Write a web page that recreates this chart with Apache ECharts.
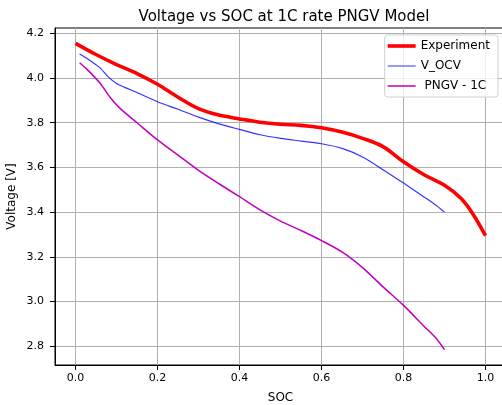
<!DOCTYPE html>
<html>
<head>
<meta charset="utf-8">
<script src="https://cdn.jsdelivr.net/npm/echarts@6/dist/echarts.min.js"></script>
<style>html,body{margin:0;padding:0;background:#fff;}#c{width:502px;height:405px;}</style>
</head>
<body>
<div id="c"></div>
<script>
// ---- data ----
const expX = [0, 0.05, 0.1, 0.15, 0.2, 0.25, 0.3, 0.35, 0.4, 0.45, 0.5, 0.55, 0.6, 0.65, 0.7, 0.75, 0.8, 0.85, 0.9, 0.94, 0.97, 1.0];
const expY = [4.155, 4.105, 4.06, 4.02, 3.972, 3.914, 3.863, 3.834, 3.817, 3.802, 3.793, 3.788, 3.777, 3.758, 3.73, 3.693, 3.625, 3.567, 3.52, 3.462, 3.39, 3.295];
const ocvX = [0.01, 0.03, 0.06, 0.08, 0.1, 0.12, 0.15, 0.2, 0.25, 0.3, 0.35, 0.4, 0.45, 0.5, 0.55, 0.6, 0.65, 0.7, 0.75, 0.8, 0.85, 0.88, 0.9];
const ocvY = [4.107, 4.085, 4.045, 4.005, 3.975, 3.958, 3.935, 3.894, 3.86, 3.825, 3.795, 3.77, 3.746, 3.73, 3.718, 3.706, 3.685, 3.647, 3.59, 3.53, 3.468, 3.43, 3.40];
const pngvX = [0.01, 0.03, 0.06, 0.085, 0.11, 0.15, 0.2, 0.25, 0.3, 0.35, 0.4, 0.45, 0.5, 0.55, 0.6, 0.65, 0.7, 0.75, 0.8, 0.85, 0.88, 0.9];
const pngvY = [4.068, 4.035, 3.976, 3.912, 3.862, 3.80, 3.723, 3.655, 3.587, 3.527, 3.469, 3.41, 3.36, 3.318, 3.273, 3.222, 3.152, 3.066, 2.983, 2.89, 2.835, 2.785];
const xTicks = [0.0, 0.2, 0.4, 0.6, 0.8, 1.0];
const yTicks = [2.8, 3.0, 3.2, 3.4, 3.6, 3.8, 4.0, 4.2];
const seriesNames = ['Experiment', 'V_OCV', ' PNGV - 1C'];

const zip = (xs, ys) => xs.map((x, i) => [x, ys[i]]);
const FONT = 'DejaVu Sans';
const chart = echarts.init(document.getElementById('c'), null, {renderer: 'canvas'});
chart.setOption({
  animation: false,
  backgroundColor: '#ffffff',
  title: {
    text: 'Voltage vs SOC at 1C rate PNGV Model',
    left: 279, top: 5, textAlign: 'center',
    textStyle: {fontFamily: FONT, fontSize: 15, fontWeight: 'normal', color: '#000'}
  },
  legend: {
    data: [
      {name: seriesNames[0], icon: 'path://M0,0H28V3.6H0Z'},
      {name: seriesNames[1], icon: 'path://M0,0H28V1.4H0Z', itemStyle: {color: '#6a6aff'}},
      {name: seriesNames[2], icon: 'path://M0,0H28V1.5H0Z'}
    ],
    orient: 'vertical',
    right: 4, top: 35,
    itemWidth: 28, itemHeight: 14, itemGap: 6,
    symbolKeepAspect: true,
    padding: [4, 8, 4, 3],
    backgroundColor: 'rgba(255,255,255,0.8)',
    borderColor: '#d0d0d0', borderWidth: 1, borderRadius: 3,
    textStyle: {fontFamily: FONT, fontSize: 12, color: '#000', lineHeight: 14}
  },
  grid: {left: 55, top: 28, right: -4, bottom: 40, outerBoundsMode: 'none', containLabel: false,
         show: true, borderColor: '#000', borderWidth: 1, backgroundColor: 'transparent'},
  xAxis: {
    type: 'value', min: -0.05, max: 1.05,
    name: 'SOC', nameLocation: 'middle', nameGap: 27, nameMoveOverlap: false,
    nameTextStyle: {fontFamily: FONT, fontSize: 12, color: '#000'},
    axisLine: {show: true, onZero: false, lineStyle: {color: '#000', width: 1}},
    axisTick: {show: true, length: 5, customValues: xTicks, lineStyle: {color: '#000'}},
    axisLabel: {customValues: xTicks, margin: 8, fontFamily: FONT, fontSize: 11, color: '#000', formatter: v => v.toFixed(1)},
    splitLine: {show: true, lineStyle: {color: '#b0b0b0', width: 1}}
  },
  yAxis: {
    type: 'value', min: 2.7165, max: 4.2235,
    name: 'Voltage [V]', nameLocation: 'middle', nameGap: 37, nameMoveOverlap: false,
    nameTextStyle: {fontFamily: FONT, fontSize: 12, color: '#000'},
    axisLine: {show: true, onZero: false, lineStyle: {color: '#000', width: 1}},
    axisTick: {show: true, length: 5, customValues: yTicks, lineStyle: {color: '#000'}},
    axisLabel: {customValues: yTicks, margin: 11, fontFamily: FONT, fontSize: 11, color: '#000', formatter: v => v.toFixed(1)},
    splitLine: {show: true, lineStyle: {color: '#b0b0b0', width: 1}}
  },
  series: [
    {name: seriesNames[0], type: 'line', data: zip(expX, expY), smooth: 0.35, symbol: 'none', z: 3,
     lineStyle: {color: '#ff0000', width: 3.6}, itemStyle: {color: '#ff0000'}},
    {name: seriesNames[1], type: 'line', data: zip(ocvX, ocvY), smooth: 0.3, symbol: 'none', z: 4,
     lineStyle: {color: 'rgba(0,0,255,0.8)', width: 1.2}, itemStyle: {color: '#6a6aff'}},
    {name: seriesNames[2], type: 'line', data: zip(pngvX, pngvY), smooth: 0.3, symbol: 'none', z: 4,
     lineStyle: {color: '#bf00bf', width: 1.5}, itemStyle: {color: '#bf00bf'}}
  ]
});
</script>
</body>
</html>
